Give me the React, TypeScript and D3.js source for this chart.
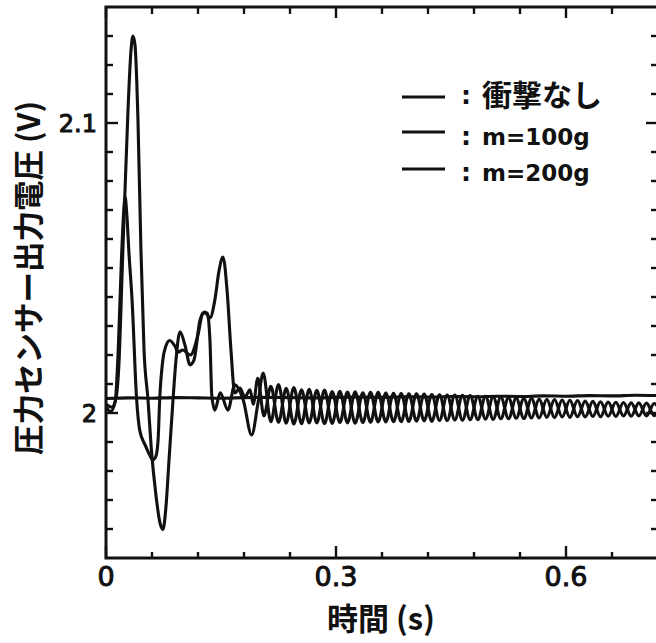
import { useEffect, useRef } from "react";
import * as d3 from "d3";

const W = 656;
const H = 643;

// axis ticks
const xMajorTicks = [0, 0.3, 0.6];
const xMinorTicks = [0.06, 0.12, 0.18, 0.24, 0.36, 0.42, 0.48, 0.54, 0.66];
const xTickLabels = ["0", "0.3", "0.6"];
const yMajorTicks = [2.0, 2.1];
const yMinorTicks = [
  1.96, 1.97, 1.98, 1.99, 2.01, 2.02, 2.03, 2.04, 2.05, 2.06, 2.07, 2.08, 2.09,
  2.11, 2.12, 2.13,
];
const yTickLabels = ["2", "2.1"];

const legendLabels = ["衝撃なし", "m=100g", "m=200g"];

// 衝撃なし (no impact)
const noneT = [
  0, 0.03, 0.06, 0.09, 0.12, 0.15, 0.18, 0.21, 0.24, 0.27, 0.3, 0.33, 0.36,
  0.39, 0.42, 0.45, 0.48, 0.51, 0.54, 0.57, 0.6, 0.63, 0.66, 0.69, 0.72,
];
const noneV = [
  2.005, 2.0052, 2.0051, 2.0053, 2.0052, 2.0051, 2.0053, 2.0054, 2.0053,
  2.0052, 2.0054, 2.0055, 2.0054, 2.0056, 2.0055, 2.0057, 2.0056, 2.0058,
  2.0057, 2.0059, 2.0058, 2.006, 2.0059, 2.0061, 2.006,
];

// m=100g, transient part
const m100T = [
  0, 0.006, 0.012, 0.016, 0.02, 0.023, 0.025, 0.027, 0.03, 0.034, 0.04, 0.044,
  0.051, 0.057, 0.061, 0.065, 0.068, 0.07, 0.074, 0.078, 0.083, 0.09, 0.094,
  0.1, 0.11, 0.12, 0.1265, 0.132, 0.1356, 0.138, 0.142, 0.149, 0.159, 0.168,
  0.179, 0.19, 0.198, 0.205,
];
const m100V = [
  2.002, 2.0005, 2.004, 2.022, 2.052, 2.069, 2.0745, 2.069, 2.055, 2.039,
  2.0045, 1.994, 1.989, 1.9855, 1.9838, 1.985, 1.991, 2.0045, 2.018, 2.023,
  2.025, 2.023, 2.021, 2.0217, 2.02, 2.027, 2.0345, 2.0345, 2.025, 2.006,
  2.001, 2.007, 2.001, 2.0097, 2.0045, 1.9924, 2.003, 2.0138,
];

// m=200g, transient part
const m200T = [
  0, 0.008, 0.013, 0.0165, 0.022, 0.0287, 0.0326, 0.0352, 0.0378, 0.0417,
  0.0456, 0.0496, 0.0548, 0.059, 0.065, 0.0705, 0.0743, 0.078, 0.0825, 0.0874,
  0.0913, 0.0965, 0.103, 0.1096, 0.1148, 0.1226, 0.129, 0.1356, 0.142, 0.1474,
  0.1526, 0.158, 0.163, 0.168, 0.1748, 0.181, 0.188, 0.192, 0.198, 0.206,
];
const m200V = [
  2.003, 2.002, 2.005, 2.015, 2.056, 2.1045, 2.125, 2.13, 2.127, 2.101, 2.056,
  2.0217, 2.0045, 1.988, 1.972, 1.962, 1.9598, 1.967, 1.985, 2.0045, 2.0183,
  2.028, 2.0234, 2.0166, 2.0183, 2.032, 2.0348, 2.0328, 2.039, 2.049, 2.0538,
  2.042, 2.0217, 2.0069, 2.0086, 2.0055, 2.008, 2.003, 2.012, 1.999,
];

// ringing after the transient, one value every 0.01 s from 0.215 s
const tailStart = 0.215;
const tailStep = 0.01;
const m100Tail = [
  1.997, 2.0098, 1.9965, 2.0088, 1.9963, 2.0082, 1.9966, 2.0079, 1.9964,
  2.0075, 1.9966, 2.0073, 1.9967, 2.0071, 1.9969, 2.0069, 1.997, 2.0067,
  1.9971, 2.0066, 1.9973, 2.0064, 1.9974, 2.0062, 1.9976, 2.0061, 1.9977,
  2.0058, 1.9979, 2.0056, 1.998, 2.0053, 1.9982, 2.005, 1.9983, 2.0048,
  1.9985, 2.0046, 1.9986, 2.0044, 1.9987, 2.0041, 1.9988, 2.0039, 1.9989,
  2.0037, 1.999, 2.0035, 1.999, 2.0034, 1.9991, 2.0032,
];
const m200Tail = [
  2.0092, 1.9968, 2.0085, 1.9962, 2.008, 1.9966, 2.0078, 1.9963, 2.0074,
  1.9967, 2.0072, 1.9965, 2.007, 1.9968, 2.0071, 1.9969, 2.0068, 1.997,
  2.0066, 1.9972, 2.0065, 1.9971, 2.0063, 1.9974, 2.0062, 1.9975, 2.006,
  1.9977, 2.0058, 1.9978, 2.0055, 1.998, 2.0052, 1.9981, 2.005, 1.9983,
  2.0047, 1.9984, 2.0045, 1.9985, 2.0043, 1.9986, 2.004, 1.9987, 2.0038,
  1.9988, 2.0036, 1.9989, 2.0035, 1.999, 2.0033, 1.999,
];

const INK = "#111";

export default function App() {
  const svgRef = useRef<SVGSVGElement>(null);

  useEffect(() => {
    const el = svgRef.current;
    if (!el) return;
    const svg = d3.select(el);
    svg.selectAll("*").remove();

    const left = 106;
    const right = 658;
    const top = 7;
    const bottom = 558;

    const xs = d3.scaleLinear().domain([0, 0.72]).range([left, right]);
    const ys = d3.scaleLinear().domain([1.95, 2.14]).range([bottom, top]);

    svg.append("rect").attr("width", W).attr("height", H).attr("fill", "#fff");

    svg
      .append("defs")
      .append("clipPath")
      .attr("id", "plot-clip")
      .append("rect")
      .attr("x", left)
      .attr("y", top)
      .attr("width", right - left)
      .attr("height", bottom - top);

    const build = (t: number[], v: number[], tail: number[]) => {
      const pts: [number, number][] = t.map((d, i) => [d, v[i]]);
      tail.forEach((d, i) => pts.push([tailStart + i * tailStep, d]));
      return pts;
    };

    const series: [number, number][][] = [
      noneT.map((d, i) => [d, noneV[i]] as [number, number]),
      build(m100T, m100V, m100Tail),
      build(m200T, m200V, m200Tail),
    ];

    const line = d3
      .line<[number, number]>()
      .x((d) => xs(d[0]))
      .y((d) => ys(d[1]))
      .curve(d3.curveMonotoneX);

    const plot = svg.append("g").attr("clip-path", "url(#plot-clip)");
    series.forEach((pts) => {
      plot
        .append("path")
        .datum(pts)
        .attr("fill", "none")
        .attr("stroke", INK)
        .attr("stroke-width", 3.1)
        .attr("stroke-linejoin", "round")
        .attr("d", line);
    });

    // Frame
    svg
      .append("rect")
      .attr("x", left)
      .attr("y", top)
      .attr("width", right - left)
      .attr("height", bottom - top)
      .attr("fill", "none")
      .attr("stroke", INK)
      .attr("stroke-width", 3);

    // Ticks (all inward)
    const tick = (x1: number, y1: number, x2: number, y2: number) =>
      svg
        .append("line")
        .attr("x1", x1)
        .attr("y1", y1)
        .attr("x2", x2)
        .attr("y2", y2)
        .attr("stroke", INK)
        .attr("stroke-width", 2.4);

    xMajorTicks.forEach((d) => {
      tick(xs(d), bottom, xs(d), bottom - 12);
      tick(xs(d), top, xs(d), top + 11);
    });
    xMinorTicks.forEach((d) => {
      tick(xs(d), bottom, xs(d), bottom - 6);
      tick(xs(d), top, xs(d), top + 7);
    });
    yMajorTicks.forEach((d) => {
      tick(left, ys(d), left + 12, ys(d));
      tick(right, ys(d), right - 12, ys(d));
    });
    yMinorTicks.forEach((d) => {
      tick(left, ys(d), left + 7, ys(d));
      tick(right, ys(d), right - 7, ys(d));
    });

    // Tick labels
    svg
      .selectAll(".xl")
      .data(xMajorTicks)
      .enter()
      .append("text")
      .attr("x", (d) => xs(d))
      .attr("y", 586)
      .attr("text-anchor", "middle")
      .attr("fill", INK)
      .attr("stroke", INK)
      .attr("stroke-width", 1)
      .style("font-family", "DejaVu Sans, sans-serif")
      .style("font-size", "27px")
      .text((d, i) => xTickLabels[i]);

    svg
      .selectAll(".yl")
      .data(yMajorTicks)
      .enter()
      .append("text")
      .attr("x", 97)
      .attr("y", (d) => ys(d))
      .attr("dy", "0.36em")
      .attr("text-anchor", "end")
      .attr("fill", INK)
      .attr("stroke", INK)
      .attr("stroke-width", 1)
      .style("font-family", "DejaVu Sans, sans-serif")
      .style("font-size", "24px")
      .text((d, i) => yTickLabels[i]);

    // Axis titles
    svg
      .append("text")
      .attr("x", 381)
      .attr("y", 630)
      .attr("text-anchor", "middle")
      .attr("fill", INK)
      .style("font-family", "Noto Sans CJK JP, sans-serif")
      .style("font-weight", 700)
      .style("font-size", "31px")
      .text("時間 (s)");

    svg
      .append("text")
      .attr("transform", "translate(27,278) rotate(-90)")
      .attr("text-anchor", "middle")
      .attr("dominant-baseline", "central")
      .attr("fill", INK)
      .style("font-family", "Noto Sans CJK JP, sans-serif")
      .style("font-weight", 700)
      .style("font-size", "30.5px")
      .text("圧力センサー出力電圧 (V)");

    // Legend
    const legendY = [97, 132, 169];
    const legendBase = [106, 145, 181];
    legendLabels.forEach((lab, i) => {
      svg
        .append("line")
        .attr("x1", 402)
        .attr("x2", 445)
        .attr("y1", legendY[i])
        .attr("y2", legendY[i])
        .attr("stroke", INK)
        .attr("stroke-width", 3);
      svg
        .append("text")
        .attr("x", 461)
        .attr("y", legendBase[i] - (i === 0 ? 2 : 0))
        .attr("fill", INK)
        .style("font-family", "DejaVu Sans, sans-serif")
        .style("font-weight", 700)
        .style("font-size", "25px")
        .text(":");
      const isCJK = i === 0;
      svg
        .append("text")
        .attr("x", 482)
        .attr("y", legendBase[i])
        .attr("fill", INK)
        .style(
          "font-family",
          isCJK ? "Noto Sans CJK JP, sans-serif" : "DejaVu Sans, sans-serif",
        )
        .style("font-weight", 700)
        .style("font-size", isCJK ? "30px" : "23px")
        .text(lab);
    });
  }, []);

  return (
    <svg
      ref={svgRef}
      width={W}
      height={H}
      style={{ position: "absolute", left: 0, top: 0, background: "#fff" }}
    />
  );
}
